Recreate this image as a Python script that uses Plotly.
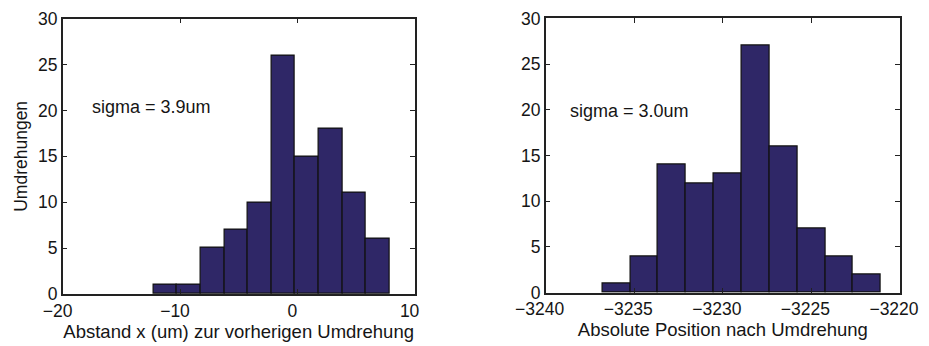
import plotly.graph_objects as go

# ---- data ----
left_centers = [-11.27, -9.26, -7.24, -5.22, -3.21, -1.19, 0.82, 2.84, 4.85, 6.87]
left_counts = [1, 1, 5, 7, 10, 26, 15, 18, 11, 6]
left_width = 2.016

right_centers = [-3236.01, -3234.44, -3232.87, -3231.30, -3229.72,
                 -3228.15, -3226.58, -3225.00, -3223.43, -3221.86]
right_counts = [1, 4, 14, 12, 13, 27, 16, 7, 4, 2]
right_width = 1.573

y_ticks = [0, 5, 10, 15, 20, 25, 30]
left_xticks = [-20, -10, 0, 10]
right_xticks = [-3240, -3235, -3230, -3225, -3220]

left_xlabel = "Abstand x (um) zur vorherigen Umdrehung"
right_xlabel = "Absolute Position nach Umdrehung"
ylabel = "Umdrehungen"
left_note = "sigma = 3.9um"
right_note = "sigma = 3.0um"

BAR = "#2f2767"
TXT = "#151515"
FONT = "Liberation Sans, Arial, Helvetica, sans-serif"

fig = go.Figure()
fig.add_trace(go.Bar(x=left_centers, y=left_counts, width=left_width,
                     marker=dict(color=BAR, line=dict(color="#111111", width=1.2)),
                     xaxis="x", yaxis="y", showlegend=False))
fig.add_trace(go.Bar(x=right_centers, y=right_counts, width=right_width,
                     marker=dict(color=BAR, line=dict(color="#111111", width=1.2)),
                     xaxis="x2", yaxis="y2", showlegend=False))

axis_common = dict(showline=True, mirror="ticks", linecolor="#222222", linewidth=1.5,
                   ticks="inside", ticklen=5, tickcolor="#222222", tickwidth=1.2,
                   showgrid=False, zeroline=False, automargin=False,
                   tickfont=dict(size=17.5, color=TXT, family=FONT))

TITLE_FONT = dict(size=18.5, color=TXT, family=FONT)

# the page body adds an 8px offset, so the figure is 8px smaller than the window
fig.update_layout(
    width=921, height=338,
    margin=dict(l=0, r=0, t=0, b=0),
    paper_bgcolor="white", plot_bgcolor="white",
    font=dict(family=FONT, color=TXT),
    bargap=0,
    xaxis=dict(domain=[0.0594, 0.4415], range=[-20, 10], tickvals=left_xticks,
               ticklabelshift=-5,
               title=dict(text=left_xlabel, font=TITLE_FONT, standoff=2),
               anchor="y", **axis_common),
    yaxis=dict(domain=[0.1538, 0.9683], range=[0, 30], tickvals=y_ticks,
               title=dict(text=ylabel, font=dict(size=17.5, color=TXT, family=FONT), standoff=6),
               anchor="x", **axis_common),
    xaxis2=dict(domain=[0.5838, 0.9685], range=[-3240, -3220], tickvals=right_xticks,
                ticklabelshift=-6,
                title=dict(text=right_xlabel, font=TITLE_FONT, standoff=2),
                anchor="y2", **axis_common),
    yaxis2=dict(domain=[0.1577, 0.9690], range=[0, 30], tickvals=y_ticks,
                anchor="x2", **axis_common),
    annotations=[
        dict(x=-17.7, y=20.4, xref="x", yref="y", text=left_note, showarrow=False,
             xanchor="left", yanchor="middle", font=dict(size=18, color=TXT, family=FONT)),
        dict(x=-3238.74, y=19.9, xref="x2", yref="y2", text=right_note, showarrow=False,
             xanchor="left", yanchor="middle", font=dict(size=18, color=TXT, family=FONT)),
    ],
)

fig.write_html("out.html")
